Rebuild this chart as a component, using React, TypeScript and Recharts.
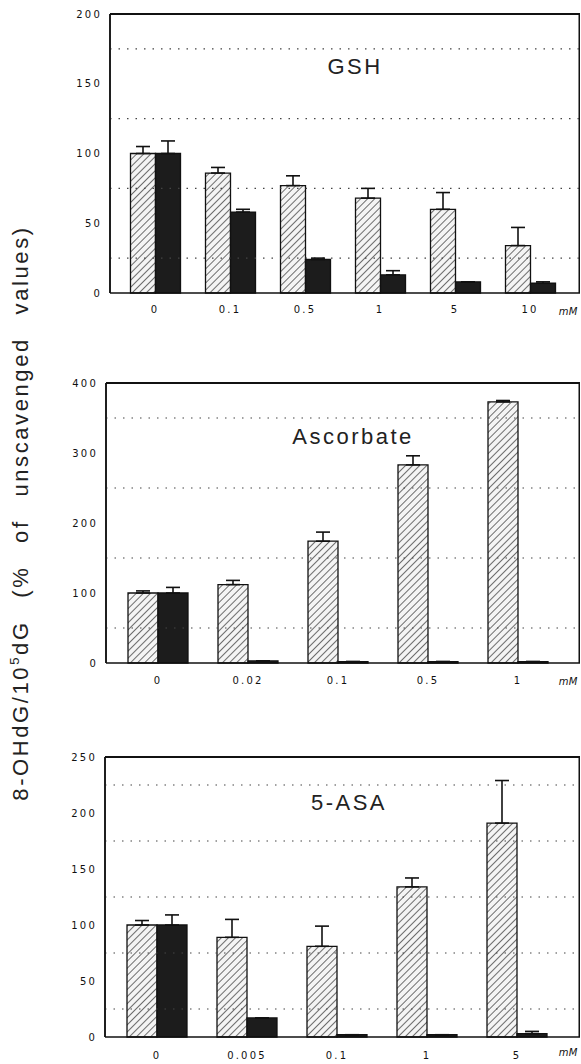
import React from 'react';
import { BarChart, Bar, XAxis, YAxis, ErrorBar, ReferenceLine, CartesianGrid } from 'recharts';

// ---- GSH ----
const gshConc = ['0', '0.1', '0.5', '1', '5', '10'];
const gshHatched = [100, 86, 77, 68, 60, 34];
const gshHatchedErr = [5, 4, 7, 7, 12, 13];
const gshBlack = [100, 58, 24, 13, 8, 7];
const gshBlackErr = [9, 2, 1, 3, 0, 1];
const gshTicks = [0, 50, 100, 150, 200];
const gshGrid = [25, 75, 125, 175];

// ---- Ascorbate ----
const ascConc = ['0', '0.02', '0.1', '0.5', '1'];
const ascHatched = [100, 112, 174, 283, 373];
const ascHatchedErr = [3, 6, 13, 13, 2];
const ascBlack = [100, 3, 2, 2, 2];
const ascBlackErr = [8, 0, 0, 0, 0];
const ascTicks = [0, 100, 200, 300, 400];
const ascGrid = [50, 150, 250, 350];

// ---- 5-ASA ----
const asaConc = ['0', '0.005', '0.1', '1', '5'];
const asaHatched = [100, 89, 81, 134, 191];
const asaHatchedErr = [4, 16, 18, 8, 38];
const asaBlack = [100, 17, 2, 2, 3];
const asaBlackErr = [9, 0, 0, 0, 2];
const asaTicks = [0, 50, 100, 150, 200, 250];
const asaGrid = [25, 75, 125, 175, 225];

const unitLabel = 'mM';
const yLabelMain = '8-OHdG/10';
const yLabelSup = '5';
const yLabelRest = 'dG (% of unscavenged values)';

function build(conc: string[], h: number[], he: number[], b: number[], be: number[]) {
  return conc.map((c, i) => ({
    conc: c,
    hatched: h[i],
    hatchedErr: [0, he[i]],
    black: b[i],
    blackErr: [0, be[i]],
  }));
}

const tickStyle = { fontFamily: 'DejaVu Sans', fontSize: 10, fill: '#111', letterSpacing: 2.2 };

type PanelProps = {
  data: any[];
  top: number;
  height: number;
  margin: { top: number; right: number; left: number; bottom: number };
  max: number;
  ticks: number[];
  grid: number[];
  padL: number;
  padR: number;
  barSize: number;
  xHeight: number;
  tickMargin: number;
};

function Panel(p: PanelProps) {
  return (
    <div style={{ position: 'absolute', left: 0, top: p.top }}>
      <BarChart
        width={581}
        height={p.height}
        data={p.data}
        margin={p.margin}
        barGap={0}
        barSize={p.barSize}
      >
        <CartesianGrid
          horizontal={false}
          stroke="#111"
          strokeWidth={1.5}
          verticalCoordinatesGenerator={({ offset }: any) => [offset.left, offset.left + offset.width - 0.75]}
        />
        <XAxis
          dataKey="conc"
          padding={{ left: p.padL, right: p.padR }}
          tickLine={false}
          tickMargin={p.tickMargin}
          height={p.xHeight}
          axisLine={{ stroke: '#111', strokeWidth: 1.5 }}
          tick={tickStyle}
          interval={0}
          label={{ value: unitLabel, position: 'insideRight', offset: 2, dy: 3, style: { fontFamily: 'DejaVu Sans', fontSize: 10, fill: '#111', letterSpacing: 0.5, fontStyle: 'italic' } }}
        />
        <YAxis
          type="number"
          domain={[0, p.max]}
          ticks={p.ticks}
          tickLine={false}
          width={50}
          axisLine={{ stroke: '#111', strokeWidth: 1.5 }}
          tick={tickStyle}
        />
        {p.grid.map((g) => (
          <ReferenceLine key={g} y={g} stroke="#444" strokeWidth={1.2} strokeDasharray="1.5 7" />
        ))}
        <ReferenceLine y={p.max} stroke="#111" strokeWidth={2.2} />
        <Bar dataKey="hatched" fill="url(#hatch)" stroke="#111" strokeWidth={1.3} isAnimationActive={false}>
          <ErrorBar dataKey="hatchedErr" width={7} stroke="#111" strokeWidth={1.6} direction="y" />
        </Bar>
        <Bar dataKey="black" fill="#1c1c1c" stroke="#111" strokeWidth={1.3} isAnimationActive={false}>
          <ErrorBar dataKey="blackErr" width={7} stroke="#111" strokeWidth={1.6} direction="y" />
        </Bar>
      </BarChart>
    </div>
  );
}

const titleStyle: React.CSSProperties = {
  fontFamily: 'Liberation Sans, Arial, sans-serif',
  fontSize: 22,
  letterSpacing: 2.5,
  fill: '#222',
};

export default function App() {
  return (
    <div style={{ position: 'absolute', left: 0, top: 0, width: 581, height: 1064, background: '#fff', overflow: 'hidden' }}>
      <svg width={0} height={0} style={{ position: 'absolute' }}>
        <defs>
          <pattern id="hatch" patternUnits="userSpaceOnUse" width={5} height={5} patternTransform="rotate(45)">
            <rect x={0} y={0} width={5} height={5} fill="#f4f4f4" />
            <line x1={0} y1={0} x2={0} y2={5} stroke="#333" strokeWidth={1.4} />
          </pattern>
        </defs>
      </svg>
      <Panel
        data={build(gshConc, gshHatched, gshHatchedErr, gshBlack, gshBlackErr)}
        top={0}
        height={340}
        margin={{ top: 14, right: 1, left: 60, bottom: 17 }}
        max={200}
        ticks={gshTicks}
        grid={gshGrid}
        padL={7.5}
        padR={12.5}
        barSize={25}
        xHeight={30}
        tickMargin={7}
      />
      <Panel
        data={build(ascConc, ascHatched, ascHatchedErr, ascBlack, ascBlackErr)}
        top={340}
        height={370}
        margin={{ top: 43, right: 1, left: 56, bottom: 17 }}
        max={400}
        ticks={ascTicks}
        grid={ascGrid}
        padL={7}
        padR={17}
        barSize={30}
        xHeight={30}
        tickMargin={8}
      />
      <Panel
        data={build(asaConc, asaHatched, asaHatchedErr, asaBlack, asaBlackErr)}
        top={720}
        height={344}
        margin={{ top: 37, right: 1, left: 55, bottom: 2 }}
        max={250}
        ticks={asaTicks}
        grid={asaGrid}
        padL={7}
        padR={18}
        barSize={30}
        xHeight={25}
        tickMargin={9}
      />
      <svg width={581} height={1064} style={{ position: 'absolute', left: 0, top: 0, pointerEvents: 'none' }}>
        <text x={355} y={74} textAnchor="middle" style={titleStyle}>GSH</text>
        <text x={353} y={444} textAnchor="middle" style={titleStyle}>Ascorbate</text>
        <text x={349} y={810} textAnchor="middle" style={titleStyle}>5-ASA</text>
        <text
          x={0}
          y={0}
          transform="translate(28,513) rotate(-90)"
          textAnchor="middle"
          style={{ fontFamily: 'Liberation Sans, Arial, sans-serif', fontSize: 22, letterSpacing: 2.6, wordSpacing: 14, fill: '#222' }}
        >
          {yLabelMain}
          <tspan fontSize={13} dy={-9}>{yLabelSup}</tspan>
          <tspan dy={9}>{yLabelRest}</tspan>
        </text>
      </svg>
    </div>
  );
}
